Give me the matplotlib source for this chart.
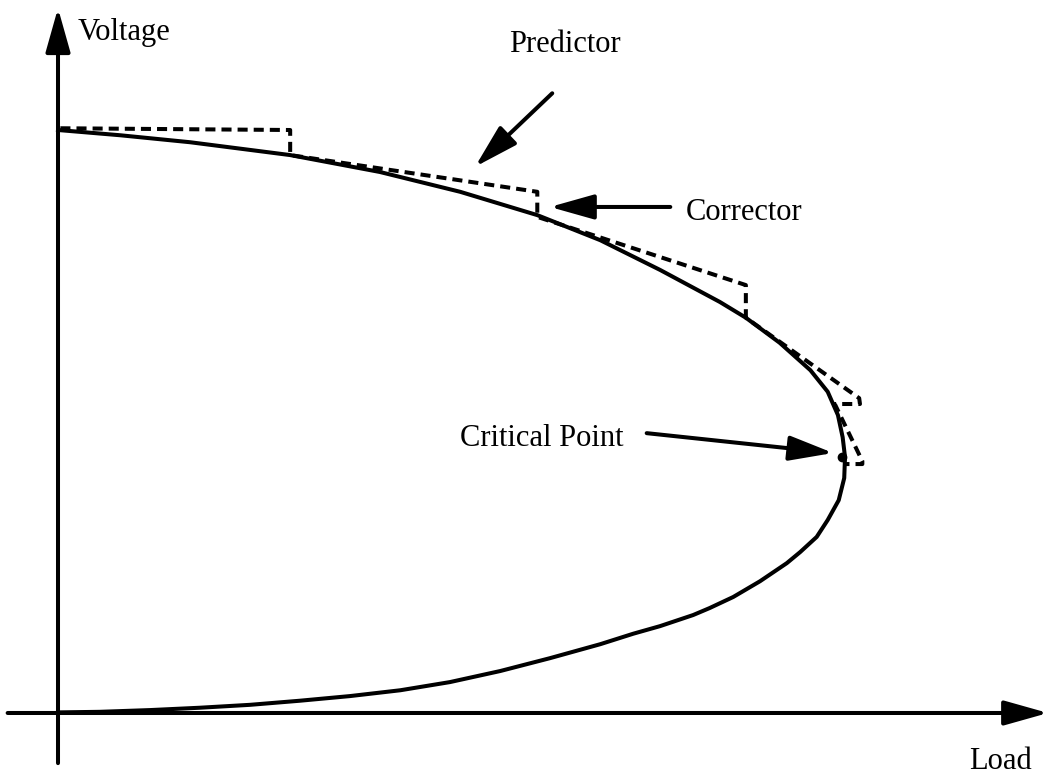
import matplotlib.pyplot as plt
import numpy as np

# P-V nose curve (load in p.u. of the critical load, voltage in p.u.)
load_pv = [0.000, 0.079, 0.168, 0.295, 0.409, 0.511, 0.609, 0.689, 0.765, 0.841,
           0.874, 0.917, 0.956, 0.978, 0.991, 0.997, 1.000, 0.999, 0.992, 0.978,
           0.964, 0.943, 0.926, 0.892, 0.858, 0.828, 0.807, 0.765, 0.731, 0.689,
           0.625, 0.562, 0.498, 0.435, 0.371, 0.307, 0.244, 0.180, 0.117, 0.053,
           0.000]
volt_pv = [1.000, 0.991, 0.979, 0.957, 0.928, 0.894, 0.854, 0.811, 0.760, 0.705,
           0.678, 0.635, 0.588, 0.551, 0.511, 0.473, 0.439, 0.403, 0.365, 0.331,
           0.302, 0.276, 0.257, 0.226, 0.199, 0.180, 0.168, 0.149, 0.136, 0.118,
           0.094, 0.072, 0.053, 0.039, 0.029, 0.021, 0.014, 0.009, 0.005, 0.002,
           0.001]

# predictor / corrector steps
load_pc = [0.003, 0.295, 0.295, 0.609, 0.609, 0.874, 0.874, 1.018, 1.019, 0.987,
           1.022, 1.022, 1.001]
volt_pc = [1.003, 1.000, 0.957, 0.894, 0.851, 0.734, 0.678, 0.540, 0.530, 0.530,
           0.432, 0.427, 0.427]

crit_load, crit_volt = 0.996, 0.439

LW = 2.9
FONT = "Liberation Serif"
FS = 22

fig = plt.figure(figsize=(10.52, 7.77), dpi=100)
ax = fig.add_axes([0, 0, 1, 1])
ax.set_xlim(-0.0737, 1.263)
ax.set_ylim(-0.1098, 1.2230)
ax.axis("off")

def arrow(x0, y0, x1, y1):
    ax.annotate("", xy=(x1, y1), xytext=(x0, y0),
                arrowprops=dict(arrowstyle="-|>,head_length=1.35,head_width=0.38",
                                mutation_scale=20, lw=LW, color="black",
                                shrinkA=0, shrinkB=0))

# axes with arrow heads
arrow(0.0, -0.086, 0.0, 1.209)
arrow(-0.064, 0.0, 1.258, 0.0)

ax.plot(load_pv, volt_pv, color="black", lw=LW, solid_joinstyle="round")
ax.plot(load_pc, volt_pc, color="black", lw=LW, ls=(0, (2.5, 1.5)))
ax.plot([crit_load], [crit_volt], "o", color="black", ms=6)

ax.text(0.025, 1.168, "Voltage", fontsize=FS, family=FONT, va="center", ha="left")
ax.text(1.197, -0.084, "Load", fontsize=FS, family=FONT, va="center", ha="center")

ax.text(0.644, 1.146, "Predictor", fontsize=FS, family=FONT, va="center", ha="center")
arrow(0.628, 1.063, 0.530, 0.937)

ax.text(0.797, 0.858, "Corrector", fontsize=FS, family=FONT, va="center", ha="left")
arrow(0.778, 0.868, 0.625, 0.868)

ax.text(0.748 - 0.03, 0.470, "Critical Point", fontsize=FS, family=FONT,
        va="center", ha="right")
arrow(0.748, 0.480, 0.985, 0.446)

fig.savefig("out.png", dpi=100)
